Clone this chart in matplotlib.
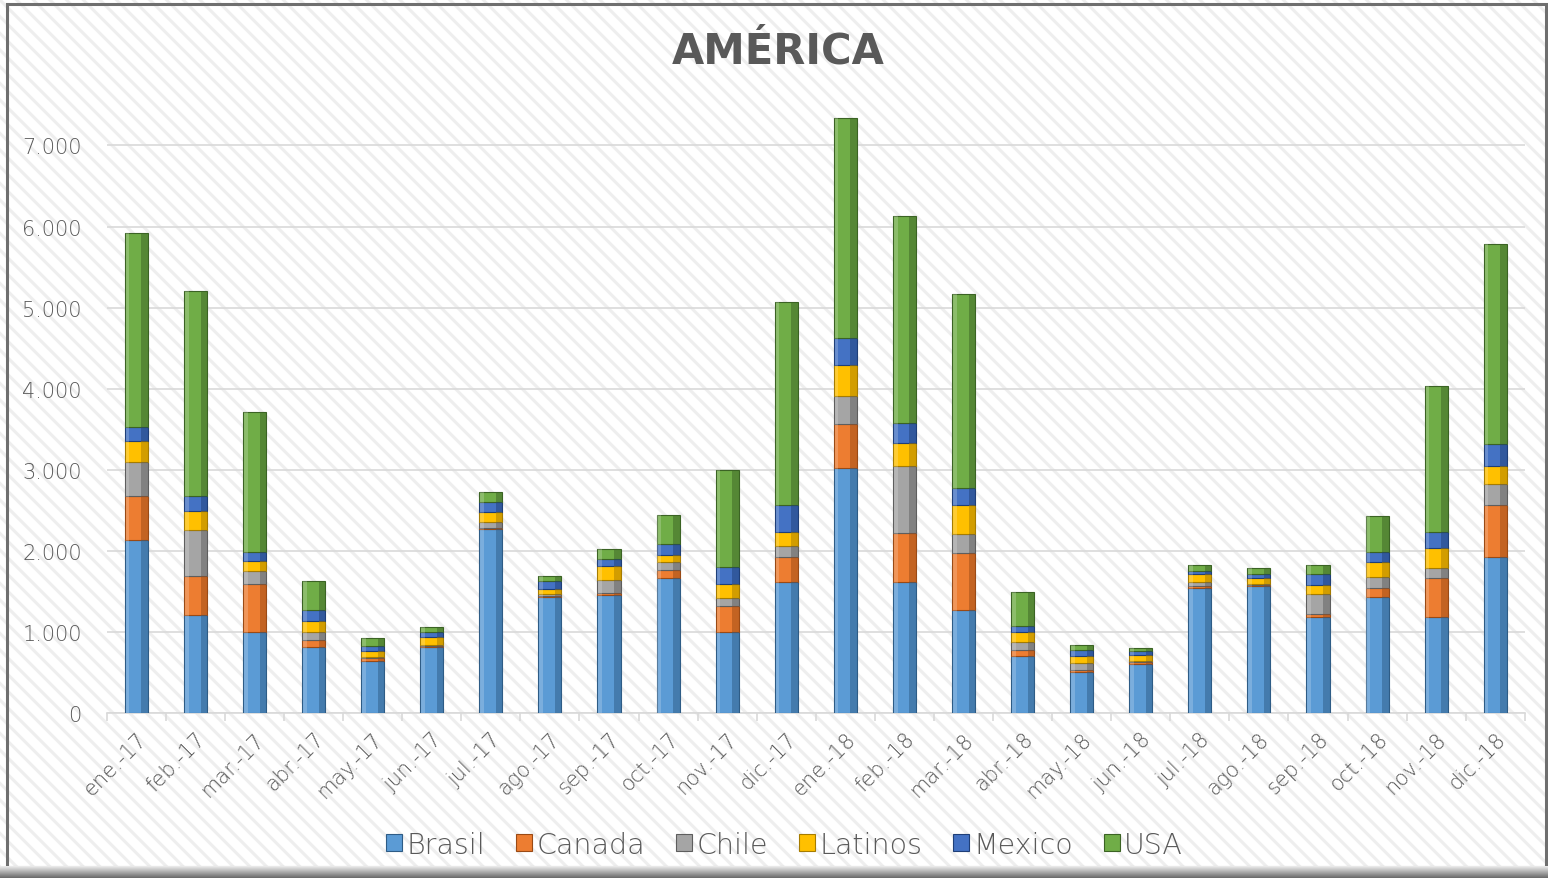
import matplotlib.pyplot as plt
import matplotlib.patches as mpatches
import numpy as np

months = ["ene.-17", "feb.-17", "mar.-17", "abr.-17", "may.-17", "jun.-17",
          "jul.-17", "ago.-17", "sep.-17", "oct.-17", "nov.-17", "dic.-17",
          "ene.-18", "feb.-18", "mar.-18", "abr.-18", "may.-18", "jun.-18",
          "jul.-18", "ago.-18", "sep.-18", "oct.-18", "nov.-18", "dic.-18"]

brasil = [2130, 1215, 1000, 820, 645, 820, 2270, 1425, 1460, 1670, 995, 1610,
          3025, 1620, 1270, 700, 510, 605, 1545, 1565, 1190, 1435, 1180, 1920]
canada = [545, 480, 595, 85, 30, 10, 10, 15, 15, 100, 330, 317,
          537, 595, 703, 78, 25, 20, 20, 16, 33, 103, 481, 640]
chile = [420, 565, 155, 100, 12, 15, 80, 25, 170, 88, 90, 131,
         351, 834, 234, 94, 78, 21, 57, 12, 239, 136, 128, 267]
latinos = [255, 227, 130, 135, 75, 95, 115, 60, 170, 97, 180, 171,
           376, 278, 356, 124, 87, 74, 87, 75, 119, 185, 243, 214]
mexico = [177, 189, 110, 125, 70, 60, 130, 98, 85, 132, 210, 342,
          331, 244, 215, 82, 82, 50, 41, 49, 136, 132, 197, 272]
usa = [2390, 2527, 1720, 360, 90, 60, 125, 73, 125, 350, 1195, 2500,
       2722, 2561, 2390, 412, 62, 32, 70, 70, 103, 436, 1799, 2477]

series = [("Brasil", brasil, "#5B9BD5", "#2E5C86"),
          ("Canada", canada, "#ED7D31", "#9A4A15"),
          ("Chile", chile, "#A5A5A5", "#5E5E5E"),
          ("Latinos", latinos, "#FFC000", "#A67C00"),
          ("Mexico", mexico, "#4472C4", "#1F3F78"),
          ("USA", usa, "#70AD47", "#3B6324")]

plt.rcParams['font.family'] = ['DejaVu Sans']
plt.rcParams['hatch.linewidth'] = 2.2
plt.rcParams['hatch.color'] = '#eeeeee'

fig = plt.figure(figsize=(15.48, 8.79), dpi=100)

# striped background, frame, bottom shadow
bg = fig.add_axes([0, 0, 1, 1], zorder=-10)
bg.set_axis_off()
bg.set_xlim(0, 1)
bg.set_ylim(0, 1)
bg.add_patch(mpatches.Rectangle((0, 0), 1, 1, facecolor='white',
                                hatch='\\\\', edgecolor='#eeeeee', lw=0))
bg.add_patch(mpatches.Rectangle((0.0045, 0.012), 0.9945, 0.982, fill=False,
                                edgecolor='#6f6f6f', lw=2.2))
shade = fig.add_axes([0, 0, 1, 0.0135], zorder=-5)
shade.imshow(np.linspace(0.92, 0.42, 20).reshape(-1, 1), cmap='gray',
             vmin=0, vmax=1, aspect='auto', extent=(0, 1, 0, 1))
shade.set_axis_off()

ax = fig.add_axes([0.069, 0.1877, 0.916, 0.701])
ax.patch.set_alpha(0)

x = np.arange(len(months))
w = 0.39
bottom = np.zeros(len(months))
handles = []
for name, vals, col, dark in series:
    vals = np.array(vals, dtype=float)
    b = ax.bar(x, vals, w, bottom=bottom, color=col, edgecolor=dark,
               linewidth=0.8, zorder=3, label=name)
    # bevel look: darker right side, lighter left side
    ax.bar(x + w * 0.36, vals, w * 0.28, bottom=bottom, color=dark,
           alpha=0.5, linewidth=0, zorder=4)
    ax.bar(x - w * 0.38, vals, w * 0.16, bottom=bottom, color='white',
           alpha=0.2, linewidth=0, zorder=4)
    handles.append(b)
    bottom += vals

ax.set_xlim(-0.5, len(months) - 0.5)
ax.set_ylim(0, 7600)
ax.set_yticks(range(0, 8000, 1000))
ax.set_yticklabels([f"{v:,}".replace(",", ".") for v in range(0, 8000, 1000)])
ax.yaxis.grid(True, color='#d9d9d9', lw=1.2, zorder=0)
ax.set_axisbelow(True)
for s in ['top', 'right', 'left']:
    ax.spines[s].set_visible(False)
ax.spines['bottom'].set_color('#d9d9d9')
ax.spines['bottom'].set_linewidth(1.2)
ax.tick_params(axis='y', length=0, labelsize=15, labelcolor='#595959', pad=18)
ax.set_xticks(x)
ax.set_xticklabels(months, rotation=45, ha='right', rotation_mode='anchor')
ax.set_xticks(np.arange(len(months) + 1) - 0.5, minor=True)
ax.tick_params(axis='x', which='major', length=0, labelsize=15,
               labelcolor='#595959', pad=11)
ax.tick_params(axis='x', which='minor', length=6, color='#d9d9d9', width=1.2)
for lab in ax.get_xticklabels() + ax.get_yticklabels():
    lab.set_fontweight('light')

fig.text(0.503, 0.941, "AMÉRICA", ha='center', va='center', fontsize=30,
         fontweight='bold', color='#595959')

leg = fig.legend(handles=handles, labels=[s[0] for s in series],
                 loc='center', bbox_to_anchor=(0.507, 0.038), ncol=6,
                 frameon=False, fontsize=20.5, handlelength=0.55,
                 handleheight=0.55, handletextpad=0.15, columnspacing=1.1)
for t in leg.get_texts():
    t.set_color('#595959')
    t.set_fontweight('light')

fig.savefig("out.png", dpi=100)
